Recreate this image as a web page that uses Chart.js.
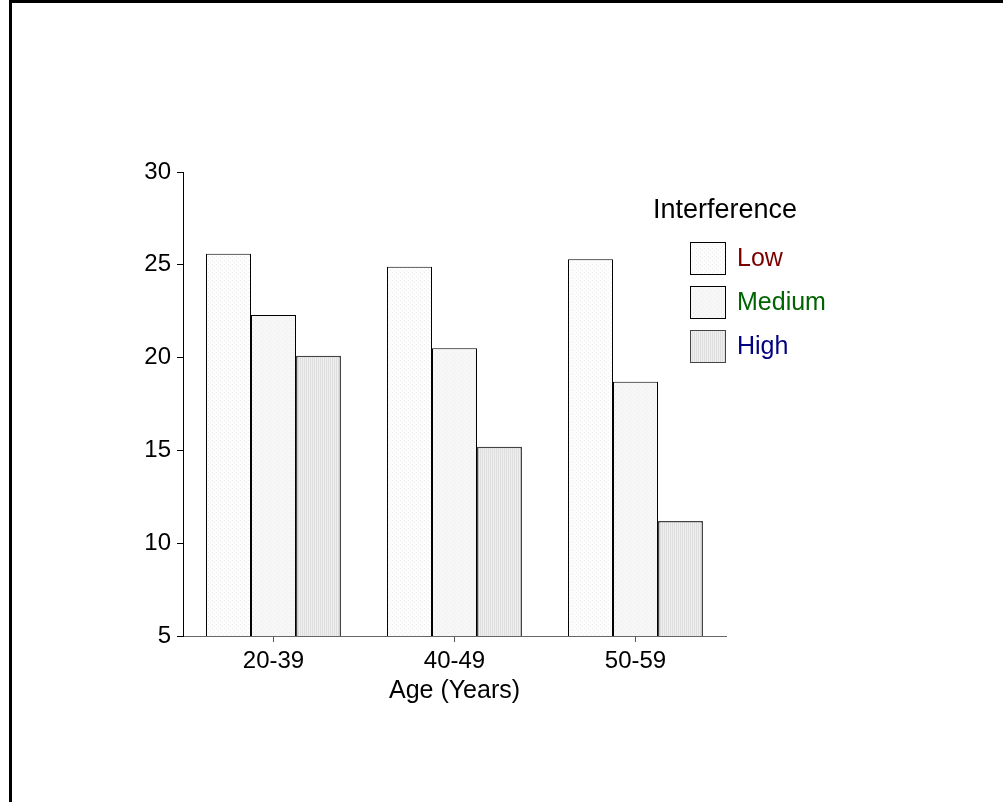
<!DOCTYPE html>
<html>
<head>
<meta charset="utf-8">
<script src="https://cdn.jsdelivr.net/npm/chart.js@4"></script>
<style>
html,body{margin:0;padding:0;background:#fff;}
#wrap{position:absolute;left:0;top:0;width:1003px;height:802px;}
</style>
</head>
<body>
<div id="wrap"><canvas id="c" width="1003" height="802"></canvas></div>
<script>
const categories = ['20-39', '40-49', '50-59'];
const seriesNames = ['Low', 'Medium', 'High'];
const lowValues = [25.6, 24.9, 25.3];
const mediumValues = [22.3, 20.5, 18.7];
const highValues = [20.1, 15.2, 11.2];
const yTicks = [5, 10, 15, 20, 25, 30];
const legendTitle = 'Interference';
const xTitle = 'Age (Years)';

const FONT = '"Liberation Sans", Arial, sans-serif';

function makePattern(base, dot, kind) {
  const p = document.createElement('canvas');
  p.width = 4; p.height = 4;
  const g = p.getContext('2d');
  g.fillStyle = base; g.fillRect(0, 0, 4, 4);
  g.fillStyle = dot;
  if (kind === 'dots') { g.fillRect(0, 0, 1, 1); g.fillRect(2, 2, 1, 1); }
  else if (kind === 'fine') { g.fillRect(1, 0, 1, 1); g.fillRect(3, 2, 1, 1); }
  else { g.fillRect(0, 0, 1, 4); g.fillRect(2, 0, 1, 4); }
  return g.createPattern(p, 'repeat');
}
const ctxMain = document.getElementById('c').getContext('2d');
const fills = [
  makePattern('#fdfdfd', '#f1eef1', 'dots'),
  makePattern('#f7f7f7', '#ececec', 'fine'),
  makePattern('#efefef', '#dedede', 'lines')
];
const labelColors = ['#7a0000', '#006400', '#000080'];
const borderColors = ['#000', '#000', '#444'];

const framePlugin = {
  id: 'frame',
  beforeDraw(chart) {
    const g = chart.ctx;
    g.save();
    g.fillStyle = '#fff';
    g.fillRect(0, 0, chart.width, chart.height);
    g.fillStyle = '#000';
    g.fillRect(9, 0, 3, chart.height);
    g.fillRect(9, 0, chart.width - 9, 3);
    g.restore();
  }
};

const legendPlugin = {
  id: 'customLegend',
  afterDraw(chart) {
    const g = chart.ctx;
    g.save();
    g.font = '27px ' + FONT;
    g.fillStyle = '#000';
    g.textBaseline = 'alphabetic';
    g.textAlign = 'left';
    g.fillText(legendTitle, 653, 218);
    chart.data.datasets.forEach((ds, i) => {
      const y = 242 + i * 44;
      g.fillStyle = ds.backgroundColor;
      g.fillRect(690, y, 35, 32);
      g.strokeStyle = ds.borderColor;
      g.lineWidth = 1;
      g.strokeRect(690.5, y + 0.5, 35, 32);
      g.fillStyle = labelColors[i];
      g.font = '25px ' + FONT;
      g.fillText(ds.label, 737, y + 24);
    });
    g.restore();
  }
};

new Chart(ctxMain, {
  type: 'bar',
  data: {
    labels: categories,
    datasets: [
      { label: seriesNames[0], data: lowValues, backgroundColor: fills[0], borderColor: borderColors[0], borderWidth: 1 },
      { label: seriesNames[1], data: mediumValues, backgroundColor: fills[1], borderColor: borderColors[1], borderWidth: 1 },
      { label: seriesNames[2], data: highValues, backgroundColor: fills[2], borderColor: borderColors[2], borderWidth: 1.5 }
    ]
  },
  options: {
    responsive: false,
    animation: false,
    devicePixelRatio: 1,
    layout: { padding: { left: 0, top: 172, right: 277, bottom: 96 } },
    plugins: { legend: { display: false }, tooltip: { enabled: false } },
    datasets: { bar: { categoryPercentage: 0.746, barPercentage: 1.0 } },
    scales: {
      x: {
        offset: true,
        grid: { offset: false, drawOnChartArea: false, drawTicks: true, tickLength: 6, color: '#555' },
        border: { display: true, color: '#666', width: 1 },
        ticks: { color: '#000', font: { family: FONT, size: 24 }, padding: 5 },
        title: { display: true, text: xTitle, color: '#000', font: { family: FONT, size: 25 }, padding: { top: -6, bottom: 0 } },
        afterFit(s) { s.height = 70; }
      },
      y: {
        min: 5, max: 30,
        afterBuildTicks(s) { s.ticks = yTicks.map(v => ({ value: v })); },
        grid: { drawOnChartArea: false, drawTicks: true, tickLength: 6, color: '#000' },
        border: { display: true, color: '#000', width: 1 },
        ticks: { color: '#000', font: { family: FONT, size: 24 }, padding: 6 },
        afterFit(s) { s.width = 183; }
      }
    }
  },
  plugins: [framePlugin, legendPlugin]
});
</script>
</body>
</html>
